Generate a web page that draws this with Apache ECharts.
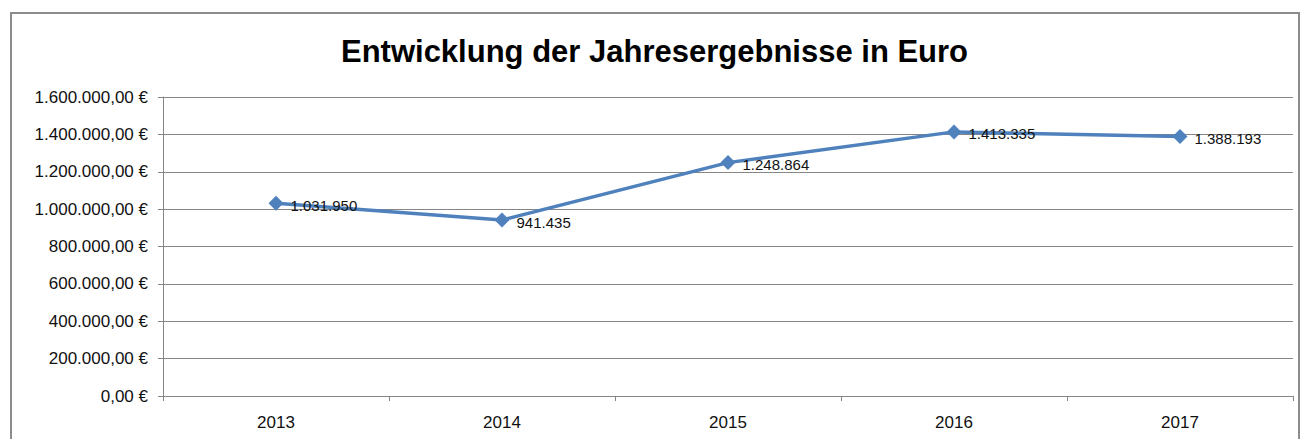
<!DOCTYPE html>
<html>
<head>
<meta charset="utf-8">
<script src="https://cdn.jsdelivr.net/npm/echarts@6/dist/echarts.min.js"></script>
<style>
  html, body { margin: 0; padding: 0; background: #fff; }
  #frame {
    position: absolute; left: 10px; top: 12px; width: 1290px; height: 440px;
    border: 2px solid #8c8c8c; border-bottom: none; box-sizing: border-box;
  }
  #chart { position: absolute; left: 0; top: 0; width: 1309px; height: 439px; }
</style>
</head>
<body>
<div id="frame"></div>
<div id="chart"></div>
<script>
var years = ['2013', '2014', '2015', '2016', '2017'];
var results = [1031950, 941435, 1248864, 1413335, 1388193];
var yTicks = { min: 0, max: 1600000, interval: 200000 };

function fmtThousands(v) {
  return String(Math.round(v)).replace(/\B(?=(\d{3})+(?!\d))/g, '.');
}

(function() {
  var font = 'Liberation Sans, Arial, sans-serif';
  var chart = echarts.init(document.getElementById('chart'), null, { renderer: 'svg' });
  chart.setOption({
    animation: false,
    title: {
      text: 'Entwicklung der Jahresergebnisse in Euro',
      left: 'center',
      top: 31,
      textStyle: { fontFamily: font, fontSize: 31, fontWeight: 'bold', color: '#000' }
    },
    grid: { left: 163, right: 16, top: 97, bottom: 43 },
    xAxis: {
      type: 'category',
      data: years,
      boundaryGap: true,
      axisLine: { lineStyle: { color: '#868686', width: 1 } },
      axisTick: { show: true, length: 5, lineStyle: { color: '#868686' } },
      axisLabel: { fontFamily: font, fontSize: 17, color: '#111', margin: 18 }
    },
    yAxis: {
      type: 'value',
      min: yTicks.min,
      max: yTicks.max,
      interval: yTicks.interval,
      axisLine: { show: true, lineStyle: { color: '#868686', width: 1 } },
      axisTick: { show: true, length: 5, lineStyle: { color: '#868686' } },
      splitLine: { lineStyle: { color: '#868686', width: 1 } },
      axisLabel: {
        fontFamily: font, fontSize: 17, color: '#111', margin: 15,
        formatter: function(v) { return fmtThousands(v) + ',00 €'; }
      }
    },
    series: [{
      type: 'line',
      data: results,
      symbol: 'diamond',
      symbolSize: 15,
      lineStyle: { color: '#4F81BD', width: 3.5 },
      itemStyle: { color: '#4F81BD' },
      label: {
        show: true,
        position: 'right',
        distance: 7,
        offset: [0, 2],
        fontFamily: font,
        fontSize: 15,
        color: '#111',
        formatter: function(p) { return fmtThousands(p.value); }
      }
    }]
  });
})();
</script>
</body>
</html>
